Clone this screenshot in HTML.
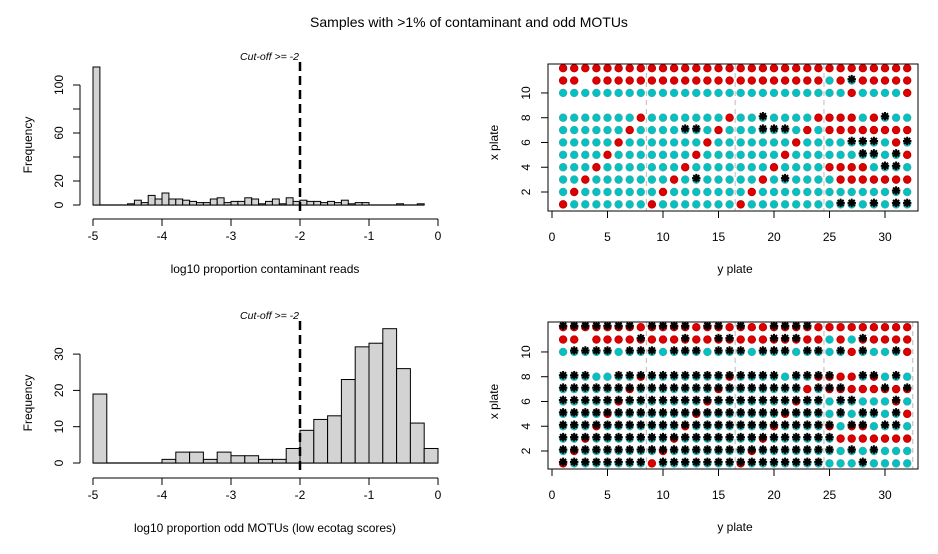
<!DOCTYPE html>
<html><head><meta charset="utf-8"><style>
body{margin:0;background:#fff}
svg text{font-family:"Liberation Sans",sans-serif;fill:#000}
</style></head><body>
<svg id="c" width="938" height="549" xmlns="http://www.w3.org/2000/svg">
<text x="469" y="27" font-size="14" text-anchor="middle">Samples with &gt;1% of contaminant and odd MOTUs</text>
</svg>
<script>
const hist1Counts=[115,0,0,0,0,1,4,2,8,5,10,5,5,4,3,2,2,5,6,2,3,3,6,5,1,3,5,1,6,3,4,3,3,2,3,2,4,1,2,2,0,0,0,0,1,0,0,1];
const hist1Start=-5, hist1Bin=0.1;
const hist1YTicks=[0,20,40,60,80,100], hist1YLabels=["0","20","","60","","100"];
const hist2Counts=[19,0,0,0,0,1,3,3,1,3,2,2,1,1,4,9,12,13,23,32,33,37,26,11,4];
const hist2Start=-5, hist2Bin=0.2;
const hist2YTicks=[0,10,20,30], hist2YLabels=["0","10","20","30"];
const histXTicks=[-5,-4,-3,-2,-1,0];
const cutoff=-2;
const plateRows=[12,11,10,8,7,6,5,4,3,2,1];
const plateBase=[
"rrrrrrrrrrrrrrrrrrrrrrrrrrrrrrrr",
"rr.rrrrrrrrrrrrrrrrrrrrrcrcrrrrr",
"ccccccccccccccccccccccccccrccccr",
"cccccccrcccccccrcccccccrrrrcrccc",
"ccccccrcccccccrcccccccrcrrrrrrrr",
"cccccrcccccccrcccccccrccccccccrc",
"ccccrcccccccrcccccccrccccccccccr",
"cccrcccccccrcccccccrccccrrrrcccc",
"ccrcccccccrcccccccrccccccrrrrrrr",
"crcccccccrcccccccrcccccccccccccc",
"rcccccccrcccccccrccccccccccccccc"];
const plateBase2=[
"rrrrrrrrrrrrrrrrrrrrrrrrrrrrrrrr",
"rr.rrrrrrrrrrrrrrrrrrrrrcrcrrrrr",
"ccccccccccccccccccccccccccrccccr",
"cccccccrcccccccrcccccccrrrrcrccc",
"ccccccrcccccccrcccccccrcrrrrrrrr",
"cccccrcccccccrcccccccrccccccccrc",
"ccccrcccccccrcccccccrccccccccccr",
"cccrcccccccrcccccccrccccrcrrcccc",
"ccrcccccccrcccccccrccccccrrrrrrr",
"crcccccccrcccccccrcccccccccccccc",
"rcccccccrcccccccrccccccccccccccc"];
const stars1=[
"................................",
"..........................*.....",
"................................",
"..................*..........*..",
"...........**.....***...........",
"..........................***..*",
"...........................**.*.",
".............................**.",
"............*.......*...........",
"..............................*.",
".........................**.*.**"];
const stars2=[
"*******.****.**.*..****.........",
".......*...*..**...***.....*....",
".****.***.***.***.***.**.*.*..*.",
"***..***************.****..**.*.",
"**********************.***...*.*",
"************************.**...*.",
"************************.*.**.*.",
"*************************.**.**.",
"*************************.......",
"*************************.*.*...",
"********.***************...*...."];
const plateXTicks=[0,5,10,15,20,25,30], plateYTicks=[2,4,6,8,10];

const svg=document.getElementById('c');
const NS='http://www.w3.org/2000/svg';
function el(t,a,p){const e=document.createElementNS(NS,t);for(const k in a)e.setAttribute(k,a[k]);(p||svg).appendChild(e);return e;}

function hist(o){
  const g=el('g',{});
  
  
  const X=v=>93+(v+5)*69, Y=v=>o.y0-v*o.sy;
  const n=o.counts.length;
  const bl=el('line',{x1:X(o.start),x2:X(o.start+n*o.bin),y1:o.y0,y2:o.y0,stroke:'#000','stroke-width':1.2},g);
  
  o.counts.forEach((c,i)=>{
    if(c<=0)return;
    const x0=X(o.start+i*o.bin), x1=X(o.start+(i+1)*o.bin);
    const r=el('rect',{x:x0,y:Y(c),width:x1-x0,height:c*o.sy,fill:'#d3d3d3',stroke:'#000','stroke-width':1},g);
    
    
  });
  const ax=el('g',{stroke:'#000','stroke-width':1},g);
  
  
  el('line',{x1:X(-5),x2:X(0),y1:o.xa,y2:o.xa},ax);
  histXTicks.forEach(t=>{el('line',{x1:X(t),x2:X(t),y1:o.xa,y2:o.xa+7},ax);
    const tx=el('text',{x:X(t),y:o.xa+21,'font-size':12,'text-anchor':'middle',stroke:'none'},g);tx.textContent=t;
    });
  const ya=el('g',{stroke:'#000','stroke-width':1},g);
  
  
  el('line',{x1:80,x2:80,y1:Y(o.yt[0]),y2:Y(o.yt[o.yt.length-1])},ya);
  o.yt.forEach((t,i)=>{el('line',{x1:73,x2:80,y1:Y(t),y2:Y(t)},ya);
    if(o.yl[i]){const tx=el('text',{x:0,y:0,transform:`translate(63,${Y(t)}) rotate(-90)`,'font-size':12,'text-anchor':'middle',stroke:'none'},g);tx.textContent=o.yl[i];
    }});
  const l=el('line',{x1:X(cutoff),x2:X(cutoff),y1:o.top,y2:o.xa-8,stroke:'#000','stroke-width':2.5,'stroke-dasharray':'9,5'},g);
  
  const ct=el('text',{x:X(cutoff)-1,y:o.top-2,'font-size':10.5,'font-style':'italic','text-anchor':'end'},g);
  ct.textContent='Cut-off >= -2';
  
  const yt=el('text',{transform:`translate(32,${o.yc}) rotate(-90)`,'font-size':12,'text-anchor':'middle'},g);yt.textContent='Frequency';
  
  const xt=el('text',{x:265,y:o.xa+54,'font-size':12,'text-anchor':'middle'},g);xt.textContent=o.xtitle;
  
}
hist({name:'contaminant-histogram',counts:hist1Counts,start:hist1Start,bin:hist1Bin,y0:205,sy:1.2,yt:hist1YTicks,yl:hist1YLabels,xa:219,top:62,yc:145,xtitle:'log10 proportion contaminant reads'});
hist({name:'odd-motu-histogram',counts:hist2Counts,start:hist2Start,bin:hist2Bin,y0:463,sy:3.63,yt:hist2YTicks,yl:hist2YLabels,xa:478,top:321,yc:403,xtitle:'log10 proportion odd MOTUs (low ecotag scores)'});

function plate(o){
  const g=el('g',{});
  
  
  const X=v=>552+v*11.1, Y=v=>o.y2-(v-2)*12.38;
  const top=o.top, bot=o.top+147;
  o.vlines.forEach(v=>{const l=el('line',{x1:X(v),x2:X(v),y1:top,y2:bot,stroke:'#bbb','stroke-dasharray':'5,4'},g);
    });
  o.base.forEach((row,ri)=>{const yv=plateRows[ri];
    for(let c=0;c<32;c++){const ch=row[c];if(ch==='.'||!ch)continue;
      const d=el('circle',{cx:X(c+1),cy:Y(yv),r:3.8,fill:ch==='r'?'#dd0000':'#00c2c2',stroke:ch==='r'?'#b00':'#4aa','stroke-width':0.8},g);
      }});
  o.stars.forEach((row,ri)=>{const yv=plateRows[ri];
    for(let c=0;c<32;c++){if(row[c]!=='*')continue;const cx=X(c+1),cy=Y(yv)-1.5,s=4.2,t=3;
      const st=el('path',{d:`M${cx-s},${cy}H${cx+s}M${cx},${cy-s}V${cy+s}M${cx-t},${cy-t}L${cx+t},${cy+t}M${cx-t},${cy+t}L${cx+t},${cy-t}`,stroke:'#000','stroke-width':2},g);
      }});
  const b=el('rect',{x:548,y:top,width:370,height:147,fill:'none',stroke:'#000'},g);
  
  plateXTicks.forEach(t=>{el('line',{x1:X(t),x2:X(t),y1:bot,y2:bot+7,stroke:'#000'},g);
    const tx=el('text',{x:X(t),y:bot+30,'font-size':12,'text-anchor':'middle'},g);tx.textContent=t;
    });
  plateYTicks.forEach(t=>{el('line',{x1:541,x2:548,y1:Y(t),y2:Y(t),stroke:'#000'},g);
    const tx=el('text',{transform:`translate(530,${Y(t)}) rotate(-90)`,'font-size':12,'text-anchor':'middle'},g);tx.textContent=t;
    });
  const yt=el('text',{transform:`translate(498,${Y(6)}) rotate(-90)`,'font-size':12,'text-anchor':'middle'},g);yt.textContent='x plate';
  
  const xt=el('text',{x:735,y:bot+62,'font-size':12,'text-anchor':'middle'},g);xt.textContent='y plate';
  
}
plate({name:'contaminant-plate-map',top:64,y2:192,base:plateBase,stars:stars1,vlines:[8.5,16.5,24.5]});
plate({name:'odd-motu-plate-map',top:322,y2:451,base:plateBase2,stars:stars2,vlines:[8.5,16.5,24.5,32.5]});
</script>
</body></html>
